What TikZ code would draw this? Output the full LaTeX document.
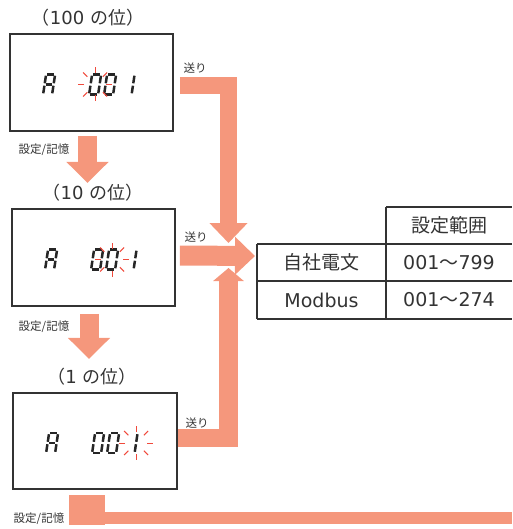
\documentclass[tikz,border=0pt]{standalone}
\usepackage{fontspec}
\setmainfont{DejaVu Sans}
\newfontfamily\jpfont{Noto Sans CJK JP}
\usepackage{tikz}
\usetikzlibrary{positioning,calc,arrows.meta}
\definecolor{sendfill}{HTML}{F5977C}
\definecolor{blinkred}{HTML}{F04A3C}
\definecolor{framegray}{HTML}{333333}
\definecolor{textgray}{HTML}{333333}
\tikzset{
  lcdbox/.style={draw=framegray, line width=1.8pt, minimum width=163pt, minimum height=97pt, inner sep=0pt},
  lcdseg/.style={line width=2.5pt, draw=black!85},
  blinkray/.style={draw=blinkred, line width=1pt},
  placetitle/.style={font=\fontsize{18}{18}\selectfont, text=textgray, inner sep=0pt},
  steplabel/.style={font=\fontsize{11.5}{11.5}\selectfont\jpfont, text=textgray, inner sep=0pt},
  storearrow/.style={draw=sendfill, line width=19pt, -{Triangle[length=21pt,width=41pt]}},
  nextarrow/.style={draw=sendfill, line join=miter, -{Triangle[length=20pt,width=37pt]}},
  rangecell/.style={font=\fontsize{19}{19}\selectfont, text=textgray, inner sep=0pt, outer sep=0pt, minimum height=37pt},
  tablerule/.style={draw=framegray, line width=1.1pt}
}
% segments of the LCD glyphs (cell 9 wide, 20 high)
\newcommand{\segzero}{1.2/-10/7.8/-10, 9/-8.8/9/-1.2, 9/1.2/9/8.8, 1.2/10/7.8/10, 0/1.2/0/8.8, 0/-8.8/0/-1.2}
\newcommand{\segone}{9/-8.8/9/-1.2, 9/1.2/9/8.8}
\newcommand{\segA}{1.2/-10/7.8/-10, 9/-8.8/9/-1.2, 9/1.2/9/8.8, 0/1.2/0/8.8, 0/-8.8/0/-1.2, 1.2/0/7.8/0}
\newcommand{\lcdglyph}[2]{%
  \begin{scope}[shift={(#1)}, xslant=0.15]
    \foreach \xa/\ya/\xb/\yb in #2 {\draw[lcdseg] (\xa,\ya) -- (\xb,\yb);}
  \end{scope}}
\newcommand{\lcdblink}[1]{%
  \foreach \ang in {0,45,...,315} {\draw[blinkray] ($(#1)+(\ang:11)$) -- ($(#1)+(\ang:17)$);}}
% "A 001" on display #1, blinking glyph centred at x offset #2
\newcommand{\lcdreading}[2]{%
  \lcdglyph{$(#1.west)+(35.5,2)$}{\segA}
  \lcdglyph{$(#1.west)+(81.5,2)$}{\segzero}
  \lcdglyph{$(#1.west)+(96.5,2)$}{\segzero}
  \lcdglyph{$(#1.west)+(115,2)$}{\segone}
  \coordinate (#1-blink) at ($(#1.west)+(#2,2)$);
  \lcdblink{#1-blink}}

\begin{document}
\begin{tikzpicture}[x=1pt, y=-1pt]
  \useasboundingbox (0,0) rectangle (512,529);
  % displays
  \node[placetitle] (place1) at (88,18) {{\jpfont （}100 {\jpfont の位）}};
  \node[lcdbox] (disp1) at (91.5,82.5) {};
  \node[placetitle] (place2) at (93,193) {{\jpfont （}10 {\jpfont の位）}};
  \node[lcdbox] (disp2) at (93.5,257.5) {};
  \node[placetitle] (place3) at (92,377) {{\jpfont （}1 {\jpfont の位）}};
  \node[lcdbox, minimum width=164pt, minimum height=96pt] (disp3) at (95,441) {};
  \lcdreading{disp1}{86}
  \lcdreading{disp2}{101}
  \lcdreading{disp3}{124}
  % store arrows
  \draw[storearrow] ($(disp1.south)+(-4,4)$) -- ++(0,47);
  \draw[storearrow] ($(disp2.south)+(-4.5,7)$) -- ++(0,45);
  \node[steplabel] (store1) at (44,150) {設定/記憶};
  \node[steplabel] (store2) at (44,327) {設定/記憶};
  \node[steplabel] (store3) at (39,519) {設定/記憶};
  \coordinate (storebase) at ($(disp3.south)+(-26,5)$);
  \coordinate (storeend) at (512,524);
  \fill[sendfill] (storebase) rectangle ++(36,30);
  \fill[sendfill] ($(storebase)+(36,17)$) rectangle (storeend);
  % table
  \node[rangecell, minimum width=129pt] (own) at (321.5,262.5) {{\jpfont 自社電文}};
  \node[rangecell, minimum width=126pt, right=0pt of own] (ownrange) {001{\jpfont ～}799};
  \node[rangecell, minimum width=126pt, above=0pt of ownrange] (rangehead) {{\jpfont 設定範囲}};
  \node[rangecell, minimum width=129pt, minimum height=38pt, below=0pt of own] (modbus) {Modbus};
  \node[rangecell, minimum width=126pt, minimum height=38pt, right=0pt of modbus] (modbusrange) {001{\jpfont ～}274};
  \draw[tablerule] (rangehead.north west) -- (rangehead.north east)
    (own.north west) -- (ownrange.north east)
    (own.south west) -- (ownrange.south east)
    (modbus.south west) -- (modbusrange.south east)
    (own.north west) -- (modbus.south west)
    (rangehead.north west) -- (modbusrange.south west);
  % next arrows
  \coordinate (jn) at (228.5,256);
  \draw[nextarrow, line width=17.5pt] ($(disp1.east)+(6,3)$) -| ($(jn)+(0,-13)$);
  \draw[nextarrow, line width=20pt] ($(disp2.east)+(4,-2)$) -- ([xshift=-2pt]jn -| own.west);
  \draw[nextarrow, line width=18.5pt, -{Triangle[length=13pt,width=30pt]}] ($(disp3.east)+(0,-3)$) -| ($(jn)+(0,12)$);
  \node[steplabel] (next1) at (195,68) {送り};
  \node[steplabel] (next2) at (196,237) {送り};
  \node[steplabel] (next3) at (197,423) {送り};
\end{tikzpicture}
\end{document}
